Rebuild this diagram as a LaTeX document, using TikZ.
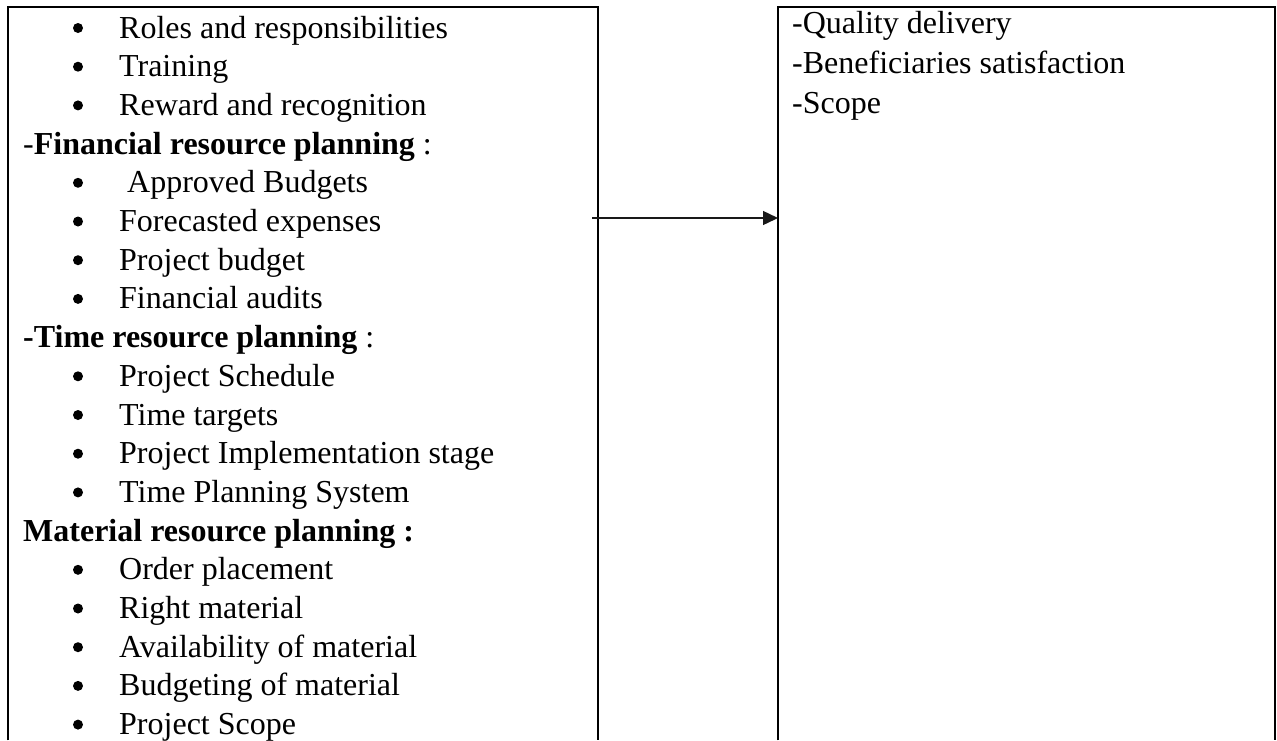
\documentclass[tikz,border=0pt]{standalone}
\usepackage{fontspec}
\setmainfont{Liberation Serif}
\usetikzlibrary{arrows.meta}
\begin{document}
\begin{tikzpicture}[x=1pt,y=-1pt,
  frame/.style={line width=2pt},
  txt/.style={anchor=base west, inner sep=0pt, font=\fontsize{32}{38.7}\selectfont},
  dot/.style={circle, fill=black, inner sep=0pt, minimum size=10pt},
  conn/.style={line width=1.4pt, draw=black!90, -{Triangle[length=15pt,width=14pt]}}]
\useasboundingbox (0,0) rectangle (1277,740);
\fill[white] (0,0) rectangle (1277,740);

% two frames, open at the bottom
\node[inner sep=0pt, minimum width=590pt, minimum height=733pt, anchor=north west] (lbox) at (8,7) {};
\node[inner sep=0pt, minimum width=497pt, minimum height=733pt, anchor=north west] (rbox) at (778,7) {};
\draw[frame] (lbox.south west) -- (lbox.north west) -- (lbox.north east) -- (lbox.south east);
\draw[frame] (rbox.south west) -- (rbox.north west) -- (rbox.north east) -- (rbox.south east);

% bulleted items of the left frame
\foreach \i/\s in {0/Roles and responsibilities, 1/Training, 2/Reward and recognition,
  4/\ Approved Budgets, 5/Forecasted expenses, 6/Project budget, 7/Financial audits,
  9/Project Schedule, 10/Time targets, 11/Project Implementation stage, 12/Time Planning System,
  14/Order placement, 15/Right material, 16/Availability of material, 17/Budgeting of material,
  18/Project Scope}{
  \node[dot] (b\i) at (78,{28+38.7*\i}) {};
  \node[txt] (t\i) at (119,{38+38.7*\i}) {\s};
}

% section headings
\node[txt] (t3) at (23,{38+38.7*3}) {-\textbf{Financial resource planning} :};
\node[txt] (t8) at (23,{38+38.7*8}) {\textbf{-Time resource planning} :};
\node[txt] (t13) at (23,{38+38.7*13}) {\textbf{Material resource planning :}};

% right frame
\node[txt] (r0) at (792,33) {-Quality delivery};
\node[txt] (r1) at (792,73) {-Beneficiaries satisfaction};
\node[txt] (r2) at (792,113) {-Scope};

% connector
\coordinate (astart) at (592,218);
\draw[conn] (astart) -- (astart -| rbox.west);
\end{tikzpicture}
\end{document}
